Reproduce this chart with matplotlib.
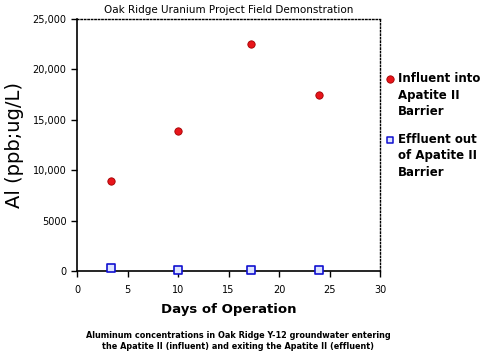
import matplotlib
matplotlib.use("Agg")
import matplotlib.pyplot as plt
from matplotlib.ticker import FuncFormatter

days = [3.4, 10.0, 17.2, 24.0]
influent = [8900, 13900, 22500, 17500]
effluent = [300, 100, 100, 100]

fig = plt.figure(figsize=(5.0, 3.52), dpi=100)
ax = fig.add_axes([0.154, 0.230, 0.606, 0.716])

ax.scatter(days, influent, s=28, c="#e8141a", edgecolors="#a00000", linewidths=0.6,
           zorder=3, clip_on=False)
ax.scatter(days, effluent, s=30, marker="s", facecolors="#dde4ff", edgecolors="#1010d0",
           linewidths=1.2, zorder=3, clip_on=False)

ax.set_xlim(0, 30)
ax.set_ylim(0, 25000)
ax.set_xticks(range(0, 31, 5))
ax.set_yticks(range(0, 25001, 5000))
ax.yaxis.set_major_formatter(FuncFormatter(lambda v, p: "0" if v == 0 else (f"{int(v)}" if v < 10000 else f"{int(v):,}")))
ax.tick_params(direction="out", length=4, width=1, labelsize=7)
ax.tick_params(axis="x", pad=6)
for s in ["left", "bottom"]:
    ax.spines[s].set_linewidth(1.2)
for s in ["top", "right"]:
    ax.spines[s].set_linestyle((0, (1, 1.5)))
    ax.spines[s].set_linewidth(1.0)

ax.set_xlabel("Days of Operation", fontsize=9.5, fontweight="bold", labelpad=6)
ax.set_ylabel("Al (ppb;ug/L)", fontsize=14, labelpad=6)
fig.text(0.457, 0.972, "Oak Ridge Uranium Project Field Demonstration", ha="center",
         va="center", fontsize=7.5)

# legend drawn by hand
ax.scatter([31.0], [19000], s=28, c="#e8141a", edgecolors="#a00000", linewidths=0.6,
           clip_on=False)
ax.text(31.8, 19700, "Influent into\nApatite II\nBarrier", va="top", ha="left",
        fontsize=8.5, fontweight="bold", linespacing=1.35)
ax.scatter([31.0], [13000], s=22, marker="s", facecolors="#dde4ff", edgecolors="#1010d0",
           linewidths=1.1, clip_on=False)
ax.text(31.8, 13700, "Effluent out\nof Apatite II\nBarrier", va="top", ha="left",
        fontsize=8.5, fontweight="bold", linespacing=1.35)

fig.text(0.476, 0.031, "Aluminum concentrations in Oak Ridge Y-12 groundwater entering\n"
         "the Apatite II (influent) and exiting the Apatite II (effluent)",
         ha="center", va="center", fontsize=5.9, fontweight="bold", linespacing=1.3)

fig.savefig("out.png", dpi=100)
